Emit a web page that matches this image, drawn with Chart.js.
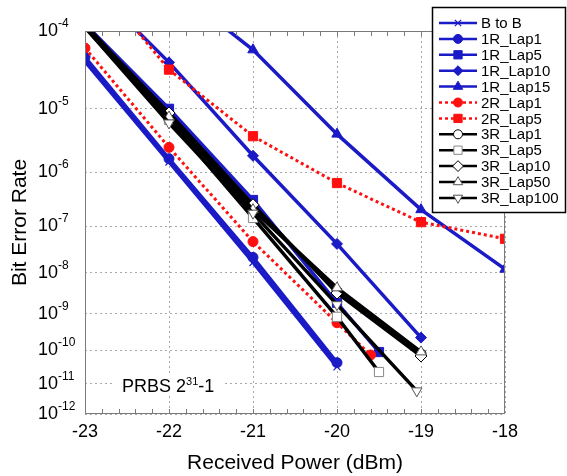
<!DOCTYPE html>
<html>
<head>
<meta charset="utf-8">
<script src="https://cdn.jsdelivr.net/npm/chart.js@4.4.0/dist/chart.umd.min.js"></script>
<style>
  body { margin: 0; background: #fff; }
</style>
</head>
<body>
<canvas id="berChart" width="567" height="476"></canvas>
<script>
// --- data (received power in dBm, bit error rate) ---
const seriesNames = ['B to B', '1R_Lap1', '1R_Lap5', '1R_Lap10', '1R_Lap15', '2R_Lap1', '2R_Lap5',
  '3R_Lap1', '3R_Lap5', '3R_Lap10', '3R_Lap50', '3R_Lap100'];

const power_BtoB = [-23, -22, -21, -20];
const ber_BtoB   = [4.3e-5, 1.5e-6, 1.7e-8, 3.3e-11];

const power_1R_Lap1 = [-23, -22, -21, -20];
const ber_1R_Lap1   = [4.9e-5, 1.7e-6, 2.2e-8, 4.4e-11];

const power_1R_Lap5 = [-23, -22, -21, -20, -19.5];
const ber_1R_Lap5   = [1.2e-4, 1.0e-5, 3.2e-7, 1.9e-9, 9.0e-11];

const power_1R_Lap10 = [-23, -22, -21, -20, -19];
const ber_1R_Lap10   = [3.6e-4, 4.2e-5, 1.9e-6, 4.3e-8, 2.3e-10];

const power_1R_Lap15 = [-22, -21, -20, -19, -18];
const ber_1R_Lap15   = [3.2e-4, 6.0e-5, 4.2e-6, 2.1e-7, 1.2e-8];

const power_2R_Lap1 = [-23, -22, -21, -20, -19.6];
const ber_2R_Lap1   = [6.3e-5, 2.6e-6, 4.8e-8, 5.8e-10, 7.4e-11];

const power_2R_Lap5 = [-23, -22, -21, -20, -19, -18];
const ber_2R_Lap5   = [4.6e-4, 3.4e-5, 3.9e-6, 6.5e-7, 1.2e-7, 5.5e-8];

const power_3R_Lap1 = [-23, -22, -21, -20, -19];
const ber_3R_Lap1   = [1.12e-4, 7.4e-6, 2.3e-7, 3.7e-9, 8.0e-11];

const power_3R_Lap5 = [-23, -22, -21, -20, -19.5];
const ber_3R_Lap5   = [1.1e-4, 6.9e-6, 1.45e-7, 8.3e-10, 2.3e-11];

const power_3R_Lap10 = [-23, -22, -21, -20, -19];
const ber_3R_Lap10   = [1.15e-4, 8.7e-6, 2.6e-7, 3.3e-9, 6.9e-11];

const power_3R_Lap50 = [-23, -22, -21, -20, -19];
const ber_3R_Lap50   = [1.2e-4, 7.6e-6, 2.1e-7, 4.4e-9, 9.1e-11];

const power_3R_Lap100 = [-23, -22, -21, -20, -19.05];
const ber_3R_Lap100   = [1.1e-4, 6.2e-6, 1.8e-7, 1.7e-9, 5.9e-12];

const powers = [power_BtoB, power_1R_Lap1, power_1R_Lap5, power_1R_Lap10, power_1R_Lap15, power_2R_Lap1,
  power_2R_Lap5, power_3R_Lap1, power_3R_Lap5, power_3R_Lap10, power_3R_Lap50, power_3R_Lap100];
const bers = [ber_BtoB, ber_1R_Lap1, ber_1R_Lap5, ber_1R_Lap10, ber_1R_Lap15, ber_2R_Lap1,
  ber_2R_Lap5, ber_3R_Lap1, ber_3R_Lap5, ber_3R_Lap10, ber_3R_Lap50, ber_3R_Lap100];

const berExponents = [4, 5, 6, 7, 8, 9, 10, 11, 12]; // y tick labels 10^-n
const powerTicks = [-23, -22, -21, -20, -19, -18];

// --- styles ---
const BLUE = '#1a1ac6';
const RED = '#ff1010';
const FONT = '"Liberation Sans", Arial, sans-serif';

const styles = [
  { color: BLUE, width: 3.5, dash: [], point: 'crossRot', r: 5, fill: BLUE, edge: BLUE, pw: 1.2 },
  { color: BLUE, width: 3.5, dash: [], point: 'circle', r: 5, fill: BLUE, edge: BLUE, pw: 1 },
  { color: BLUE, width: 3.5, dash: [], point: 'rect', r: 6.5, fill: BLUE, edge: BLUE, pw: 1 },
  { color: BLUE, width: 3.5, dash: [], point: 'rectRot', r: 5.5, fill: BLUE, edge: BLUE, pw: 1 },
  { color: BLUE, width: 3.5, dash: [], point: 'triangle', r: 6, fill: BLUE, edge: BLUE, pw: 1 },
  { color: RED, width: 3, dash: [3, 3], point: 'circle', r: 5, fill: RED, edge: RED, pw: 1 },
  { color: RED, width: 3, dash: [3, 3], point: 'rect', r: 6.5, fill: RED, edge: RED, pw: 1 },
  { color: '#000', width: 3.5, dash: [], point: 'circle', r: 5, fill: '#fff', edge: '#000', pw: 1 },
  { color: '#000', width: 3.5, dash: [], point: 'rect', r: 6.5, fill: '#fff', edge: '#888', pw: 1 },
  { color: '#000', width: 3.5, dash: [], point: 'rectRot', r: 6, fill: '#fff', edge: '#000', pw: 1 },
  { color: '#000', width: 3.5, dash: [], point: 'triangle', r: 6, fill: '#fff', edge: '#555', pw: 1 },
  { color: '#000', width: 3.5, dash: [], point: 'triangle', r: 6, fill: '#fff', edge: '#555', pw: 1, rot: 180 },
];

// BER axis: log10(-log10(BER)), drawn downwards
const qOf = b => Math.log10(-Math.log10(b));
const Q_MIN = Math.log10(4), Q_MAX = Math.log10(12);

const datasets = seriesNames.map((name, i) => {
  const s = styles[i];
  return {
    label: name,
    data: powers[i].map((p, k) => ({ x: p, y: qOf(bers[i][k]) })),
    borderColor: s.color,
    borderWidth: s.width,
    borderDash: s.dash,
    backgroundColor: s.fill,
    pointStyle: s.point,
    // markers of points outside the axis limits are not drawn
    pointRadius: c => (c.raw && (c.raw.y < Q_MIN || c.raw.y > Q_MAX)) ? 0 : s.r,
    pointBackgroundColor: s.fill,
    pointBorderColor: s.edge,
    pointBorderWidth: s.pw,
    pointRotation: s.rot || 0,
    tension: 0,
    fill: false,
    order: -i
  };
});

function supText(ctx, x, y, base, sup, size, supSize, rise) {
  ctx.font = size + 'px ' + FONT;
  ctx.fillText(base, x, y);
  const w = ctx.measureText(base).width;
  ctx.font = supSize + 'px ' + FONT;
  ctx.fillText(sup, x + w, y - rise);
  return x + w + ctx.measureText(sup).width;
}

const decorations = {
  id: 'decorations',
  afterDraw(chart) {
    const { ctx, chartArea: a, scales: { x, y } } = chart;
    ctx.save();
    ctx.setLineDash([]);

    // plot frame
    ctx.strokeStyle = '#7a7a7a';
    ctx.lineWidth = 1;
    ctx.strokeRect(a.left + 0.5, a.top + 0.5, a.right - a.left - 1, a.bottom - a.top - 1);

    // minor ticks on top and bottom edges
    ctx.beginPath();
    for (let k = 1; k < 25; k++) {
      const px = Math.round(x.getPixelForValue(-23 + k * 0.2)) + 0.5;
      ctx.moveTo(px, a.bottom); ctx.lineTo(px, a.bottom - 5);
      ctx.moveTo(px, a.top); ctx.lineTo(px, a.top + 5);
    }
    ctx.stroke();

    // y tick labels 10^-n
    ctx.fillStyle = '#000';
    ctx.textAlign = 'left';
    ctx.textBaseline = 'alphabetic';
    y.ticks.forEach(t => {
      const n = Math.round(Math.pow(10, t.value));
      const py = y.getPixelForValue(t.value);
      supText(ctx, 38, py + 5, '10', '-' + n, 18, 12, 9);
    });

    // PRBS annotation
    ctx.fillStyle = '#fff';
    ctx.fillRect(114, 373, 108, 23);
    ctx.fillStyle = '#000';
    let ex = supText(ctx, 122, 392, 'PRBS 2', '31', 18, 11, 7);
    ctx.font = '18px ' + FONT;
    ctx.fillText('-1', ex, 392);

    // legend
    const lx = 432.5, ly = 7.5, lw = 133, lh = 205;
    ctx.fillStyle = '#fff';
    ctx.fillRect(lx, ly, lw, lh);
    ctx.strokeStyle = '#000';
    ctx.lineWidth = 1.5;
    ctx.strokeRect(lx, ly, lw, lh);
    chart.data.datasets.forEach((ds, i) => {
      const s = styles[i];
      const yy = 23 + i * 15.9;
      ctx.setLineDash(s.dash);
      ctx.strokeStyle = s.color;
      ctx.lineWidth = 2.5;
      ctx.beginPath();
      ctx.moveTo(439, yy); ctx.lineTo(477, yy);
      ctx.stroke();
      ctx.setLineDash([]);
      ctx.fillStyle = s.fill;
      ctx.strokeStyle = s.edge;
      ctx.lineWidth = s.pw;
      Chart.helpers.drawPoint(ctx, { pointStyle: s.point, radius: s.r * 0.9, rotation: s.rot || 0, borderWidth: s.pw }, 458, yy);
      ctx.fillStyle = '#000';
      ctx.font = '15px ' + FONT;
      ctx.textBaseline = 'middle';
      ctx.fillText(ds.label, 481, yy + 1);
    });
    ctx.restore();
  }
};

new Chart(document.getElementById('berChart'), {
  type: 'line',
  data: { datasets },
  options: {
    responsive: false,
    animation: false,
    layout: { padding: { top: 31, right: 62, left: 0, bottom: 0 } },
    plugins: { legend: { display: false }, tooltip: { enabled: false } },
    scales: {
      x: {
        type: 'linear',
        min: -23,
        max: -18,
        afterFit: s => { s.height = 62; },
        afterBuildTicks: s => { s.ticks = powerTicks.map(v => ({ value: v })); },
        ticks: { color: '#000', font: { family: FONT, size: 18 }, padding: 7, callback: v => String(v) },
        grid: { color: '#a8a8a8', lineWidth: 1, drawTicks: false },
        border: { display: false, dash: [2, 3] },
        title: { display: true, text: 'Received Power (dBm)', color: '#000', font: { family: FONT, size: 21 }, padding: { top: 0, bottom: 0 } }
      },
      y: {
        type: 'linear',
        reverse: true,
        min: Q_MIN,
        max: Q_MAX,
        afterFit: s => { s.width = 85; },
        afterBuildTicks: s => { s.ticks = berExponents.map(n => ({ value: Math.log10(n) })); },
        ticks: { display: false },
        grid: { color: '#a8a8a8', lineWidth: 1, drawTicks: false },
        border: { display: false, dash: [2, 3] },
        title: { display: true, text: 'Bit Error Rate', color: '#000', font: { family: FONT, size: 21 }, padding: { top: 8, bottom: 0 } }
      }
    }
  },
  plugins: [decorations]
});
</script>
</body>
</html>
